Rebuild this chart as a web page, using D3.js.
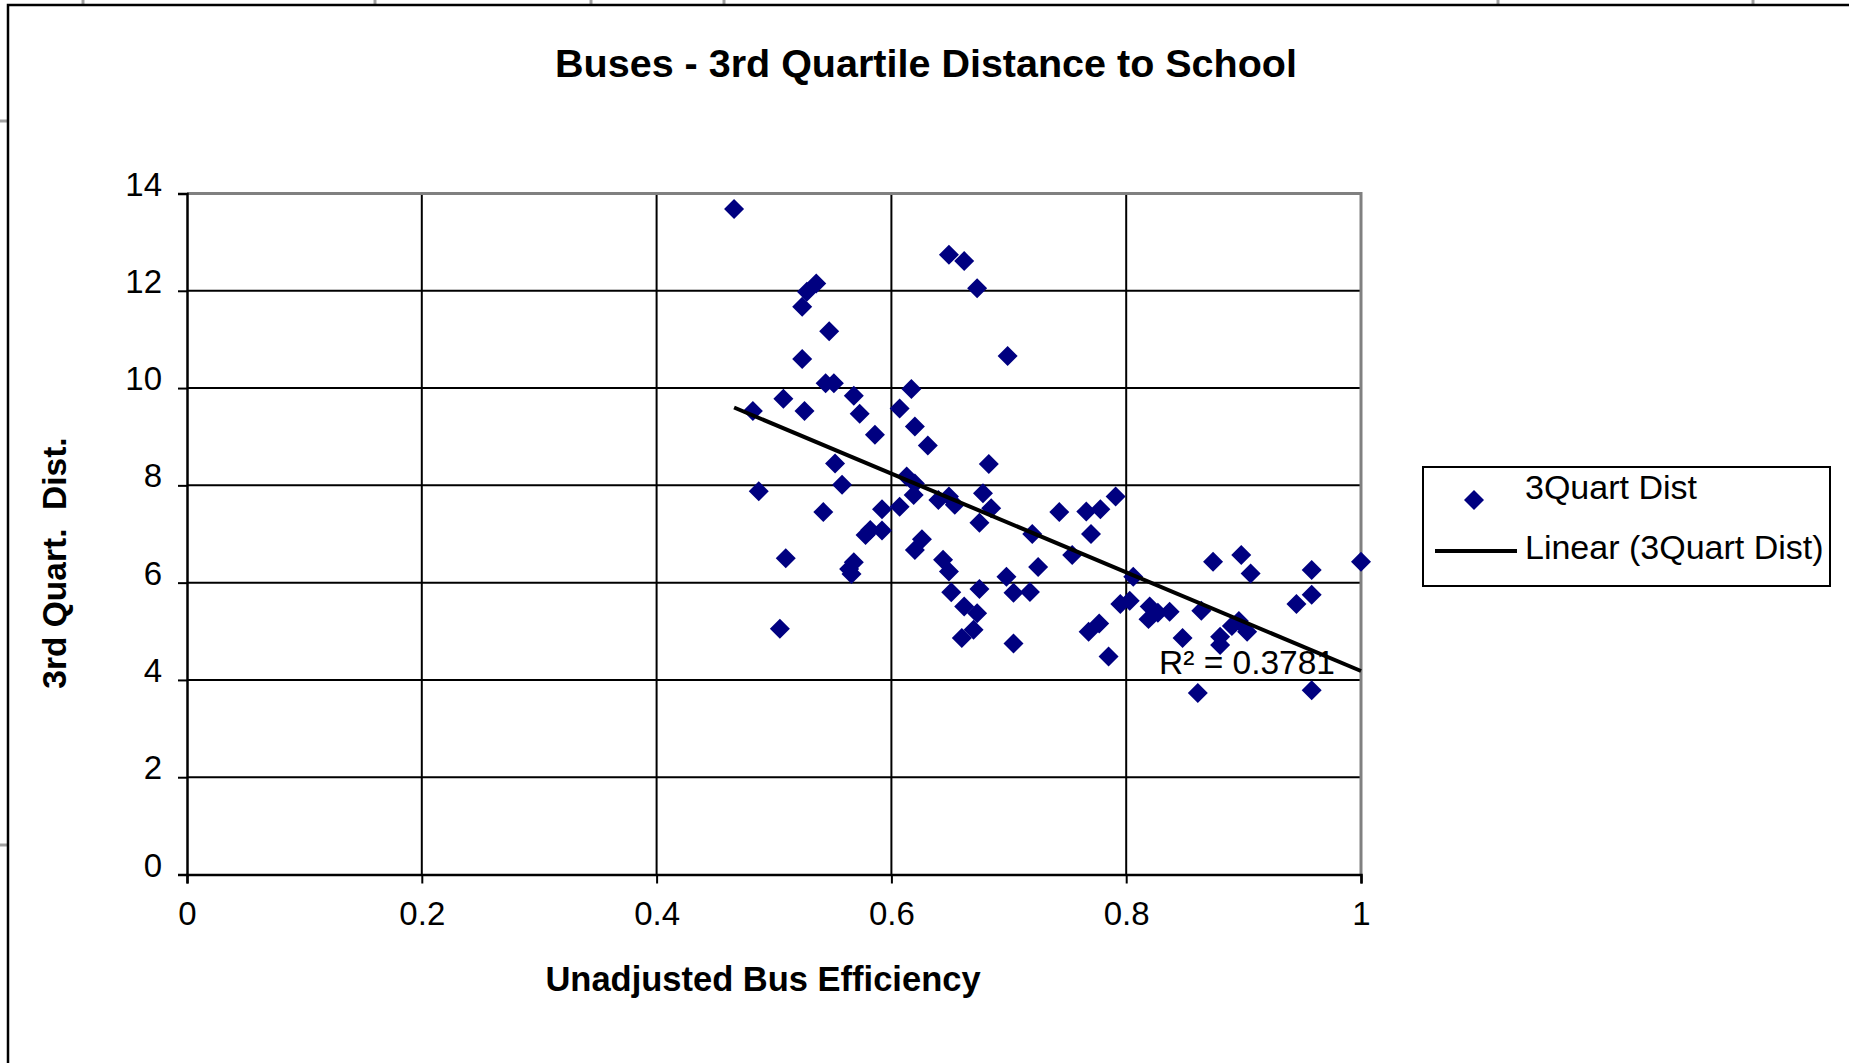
<!DOCTYPE html>
<html>
<head>
<meta charset="utf-8">
<script src="https://cdn.jsdelivr.net/npm/d3@7"></script>
<style>
  html, body { margin: 0; padding: 0; background: #fff; }
  svg { display: block; font-family: "Liberation Sans", Arial, sans-serif; }
</style>
</head>
<body>
<svg id="chart" width="1849" height="1063"></svg>
<script>
'use strict';

// unadjusted bus efficiency (x) and 3rd quartile distance (y)
const efficiency = [
  0.466, 0.482, 0.487, 0.505, 0.508, 0.510, 0.524, 0.528, 0.536, 0.524,
  0.526, 0.542, 0.544, 0.551, 0.547, 0.552, 0.558, 0.564, 0.566, 0.568,
  0.568, 0.573, 0.578, 0.582, 0.586, 0.592, 0.592, 0.607, 0.607, 0.613,
  0.617, 0.619, 0.620, 0.620, 0.620, 0.626, 0.631, 0.640, 0.644, 0.649,
  0.649, 0.649, 0.651, 0.654, 0.660, 0.662, 0.662, 0.670, 0.673, 0.673,
  0.675, 0.675, 0.678, 0.683, 0.685, 0.698, 0.699, 0.704, 0.704, 0.718,
  0.720, 0.725, 0.743, 0.754, 0.766, 0.768, 0.770, 0.777, 0.778, 0.785,
  0.791, 0.795, 0.803, 0.806, 0.819, 0.820, 0.827, 0.837, 0.848, 0.861,
  0.864, 0.874, 0.880, 0.880, 0.890, 0.896, 0.898, 0.903, 0.906, 0.945,
  0.958, 0.958, 0.958, 1.000
];
const quartDist = [
  13.68, 9.53, 7.88, 5.05, 9.78, 6.50, 11.67, 11.98, 12.15, 10.60,
  9.53, 7.45, 10.10, 10.10, 11.17, 8.45, 8.01, 6.28, 6.18, 6.42,
  9.84, 9.47, 6.98, 7.08, 9.04, 7.07, 7.51, 7.56, 9.58, 8.18,
  9.98, 7.80, 8.04, 9.21, 6.67, 6.89, 8.82, 7.70, 6.47, 12.74,
  7.77, 6.23, 5.80, 7.60, 4.86, 12.61, 5.51, 5.03, 12.05, 5.37,
  7.23, 5.87, 7.84, 8.44, 7.53, 6.12, 10.66, 5.79, 4.75, 5.81,
  7.00, 6.32, 7.45, 6.57, 7.46, 4.99, 7.00, 5.16, 7.51, 4.48,
  7.77, 5.56, 5.63, 6.12, 5.25, 5.51, 5.38, 5.40, 4.86, 3.73,
  5.42, 6.43, 4.89, 4.72, 5.11, 5.21, 6.57, 4.99, 6.19, 5.56,
  6.26, 5.75, 3.79, 6.43
];

const xTicks = [0, 0.2, 0.4, 0.6, 0.8, 1];
const yTicks = [0, 2, 4, 6, 8, 10, 12, 14];

const chartTitle = 'Buses - 3rd Quartile Distance to School';
const xTitle = 'Unadjusted Bus Efficiency';
const yTitle = '3rd Quart.  Dist.';
const seriesName = '3Quart Dist';
const trendName = 'Linear (3Quart Dist)';
const r2Label = 'R\u00b2 = 0.3781';

const NAVY = '#000080';

const svg = d3.select('#chart');

const plot = {left: 187, right: 1361, top: 193.5, bottom: 874.5};

const x = d3.scaleLinear().domain([0, 1]).range([plot.left, plot.right]);
const y = d3.scaleLinear().domain([0, 14]).range([plot.bottom, plot.top]);

const points = efficiency.map((e, i) => ({x: e, y: quartDist[i]}));

// spreadsheet cell borders peeking round the chart object
const sheet = svg.append('g').attr('class', 'sheet');
[83, 375, 591, 724, 1498, 1753].forEach(px => {
  sheet.append('line')
    .attr('x1', px).attr('x2', px).attr('y1', 0).attr('y2', 4)
    .attr('stroke', '#a0a0a0').attr('stroke-width', 3);
});
[121, 845].forEach(py => {
  sheet.append('line')
    .attr('x1', 0).attr('x2', 7).attr('y1', py).attr('y2', py)
    .attr('stroke', '#a0a0a0').attr('stroke-width', 3);
});
sheet.append('path')
  .attr('d', 'M8,1063V5H1849')
  .attr('fill', 'none')
  .attr('stroke', '#000')
  .attr('stroke-width', 2.5);

// title
svg.append('text')
  .attr('x', 926).attr('y', 77)
  .attr('text-anchor', 'middle')
  .style('font-size', '39.5px')
  .style('font-weight', 'bold')
  .text(chartTitle);

// grid
const grid = svg.append('g').attr('class', 'grid');
grid.selectAll('line.h')
  .data(yTicks.filter(d => d > 0 && d < 14))
  .enter().append('line')
    .attr('class', 'h')
    .attr('x1', plot.left).attr('x2', plot.right)
    .attr('y1', d => y(d)).attr('y2', d => y(d))
    .attr('stroke', '#000').attr('stroke-width', 2);
grid.selectAll('line.v')
  .data(xTicks.filter(d => d > 0 && d < 1))
  .enter().append('line')
    .attr('class', 'v')
    .attr('y1', plot.top).attr('y2', plot.bottom)
    .attr('x1', d => x(d)).attr('x2', d => x(d))
    .attr('stroke', '#000').attr('stroke-width', 2);

// gray frame on top and right
svg.append('path')
  .attr('d', `M${plot.left},${plot.top}H${plot.right}V${plot.bottom}`)
  .attr('fill', 'none')
  .attr('stroke', '#808080')
  .attr('stroke-width', 3);

// axes
const yAxis = svg.append('g')
  .attr('transform', `translate(${plot.left},0)`)
  .call(d3.axisLeft(y).tickValues(yTicks).tickSize(9).tickPadding(16).tickFormat(d3.format('d')));
const xAxis = svg.append('g')
  .attr('transform', `translate(0,${plot.bottom})`)
  .call(d3.axisBottom(x).tickValues(xTicks).tickSize(9).tickPadding(18).tickFormat(d => String(d)));

[yAxis, xAxis].forEach(ax => {
  ax.select('.domain').attr('stroke', '#000').attr('stroke-width', 2.5);
  ax.selectAll('.tick line').attr('stroke', '#000').attr('stroke-width', 2);
  ax.selectAll('.tick text')
    .attr('fill', '#000')
    .style('font-size', '33px')
    .style('font-family', '"Liberation Sans", Arial, sans-serif');
});
yAxis.selectAll('.tick text').attr('dy', '0.32em').attr('y', -9);
xAxis.selectAll('.tick text').attr('dy', '0.71em');

// axis titles
svg.append('text')
  .attr('x', 763).attr('y', 991)
  .attr('text-anchor', 'middle')
  .style('font-size', '34.5px')
  .style('font-weight', 'bold')
  .text(xTitle);

svg.append('text')
  .attr('transform', 'translate(66,563) rotate(-90)')
  .attr('text-anchor', 'middle')
  .style('font-size', '33.5px')
  .style('font-weight', 'bold')
  .style('white-space', 'pre')
  .text(yTitle);

// diamonds
const diamond = d3.symbol().type(d3.symbolSquare).size(200);

svg.append('g').attr('class', 'points')
  .selectAll('path')
  .data(points)
  .enter().append('path')
    .attr('d', diamond)
    .attr('transform', d => `translate(${x(d.x)},${y(d.y)}) rotate(45)`)
    .attr('fill', NAVY);

// least squares trend line
const mx = d3.mean(points, d => d.x);
const my = d3.mean(points, d => d.y);
const slope = d3.sum(points, d => (d.x - mx) * (d.y - my)) / d3.sum(points, d => (d.x - mx) ** 2);
const intercept = my - slope * mx;
const xExtent = d3.extent(points, d => d.x);

svg.append('path')
  .datum(xExtent.map(v => ({x: v, y: intercept + slope * v})))
  .attr('d', d3.line().x(d => x(d.x)).y(d => y(d.y)))
  .attr('fill', 'none')
  .attr('stroke', '#000')
  .attr('stroke-width', 4);

svg.append('text')
  .attr('x', 1159).attr('y', 674)
  .style('font-size', '33.5px')
  .text(r2Label);

// legend
const legend = svg.append('g').attr('class', 'legend');
legend.append('rect')
  .attr('x', 1423).attr('y', 467)
  .attr('width', 407).attr('height', 119)
  .attr('fill', '#fff')
  .attr('stroke', '#000')
  .attr('stroke-width', 2);
legend.append('path')
  .attr('d', diamond)
  .attr('transform', 'translate(1474,500) rotate(45)')
  .attr('fill', NAVY);
legend.append('line')
  .attr('x1', 1435).attr('x2', 1517)
  .attr('y1', 551).attr('y2', 551)
  .attr('stroke', '#000').attr('stroke-width', 4);
legend.append('text')
  .attr('x', 1525).attr('y', 499)
  .style('font-size', '34px')
  .text(seriesName);
legend.append('text')
  .attr('x', 1525).attr('y', 559)
  .style('font-size', '34px')
  .text(trendName);
</script>
</body>
</html>
